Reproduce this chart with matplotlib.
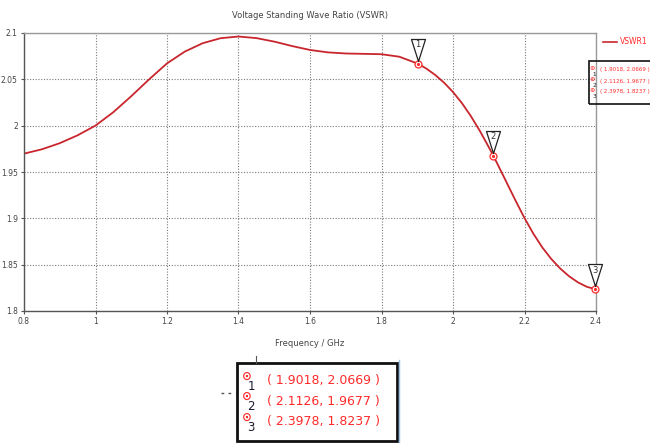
import numpy as np
import matplotlib
matplotlib.use("Agg")
import matplotlib.pyplot as plt
from matplotlib.path import Path

# VSWR curve, values
freq = [0.80, 0.85, 0.90, 0.95, 1.00, 1.05, 1.10, 1.15, 1.20, 1.25, 1.30, 1.35,
        1.40, 1.45, 1.50, 1.55, 1.60, 1.65, 1.70, 1.75, 1.80, 1.85, 1.9018, 1.925,
        1.95, 1.975, 2.00, 2.025, 2.05, 2.075, 2.10, 2.1126, 2.125, 2.15, 2.175,
        2.20, 2.225, 2.25, 2.275, 2.30, 2.325, 2.35, 2.375, 2.3978, 2.40]
vswr = [1.9698, 1.9745, 1.9811, 1.9896, 2.0001, 2.0146, 2.0318, 2.0500, 2.0672,
        2.0800, 2.0890, 2.0944, 2.0962, 2.0945, 2.0907, 2.0859, 2.0817, 2.0791,
        2.0779, 2.0775, 2.0771, 2.0744, 2.0669, 2.0617, 2.0548, 2.0464, 2.0363,
        2.0243, 2.0103, 1.9944, 1.9769, 1.9677, 1.9582, 1.9387, 1.9191, 1.9003,
        1.8833, 1.8685, 1.8561, 1.8458, 1.8374, 1.8308, 1.8260, 1.8237, 1.8236]

marker_ids = ["1", "2", "3"]
marker_f = [1.9018, 2.1126, 2.3978]
marker_v = [2.0669, 1.9677, 1.8237]

xticks = [0.8, 1.0, 1.2, 1.4, 1.6, 1.8, 2.0, 2.2, 2.4]
xtick_labels = ["0.8", "1", "1.2", "1.4", "1.6", "1.8", "2", "2.2", "2.4"]
yticks = [1.8, 1.85, 1.9, 1.95, 2.0, 2.05, 2.1]
ytick_labels = ["1.8", "1.85", "1.9", "1.95", "2", "2.05", "2.1"]

line_red = "#c8262c"
text_red = "#ff2a2a"
small_font = ["Liberation Sans Narrow", "DejaVu Sans"]

fig = plt.figure(figsize=(6.5, 4.43), dpi=100)
W, H = 650, 443


def px(x, y, w, h):
    return [x / W, 1 - (y + h) / H, w / W, h / H]


ax = fig.add_axes(px(24, 33, 572, 278))
ax.plot(freq, vswr, color=line_red, lw=1.3, solid_capstyle="round", solid_joinstyle="round")
ax.set_xlim(0.8, 2.4)
ax.set_ylim(1.8, 2.1)
ax.set_xticks(xticks)
ax.set_xticklabels(xtick_labels, family=small_font, fontsize=5.5, color="#444444")
ax.set_yticks(yticks)
ax.set_yticklabels(ytick_labels, family=small_font, fontsize=5.5, color="#444444")
ax.tick_params(length=2.5, width=0.8, color="#555555", pad=2)
ax.grid(True, ls=(0, (1, 1.5)), color="#7a7a7a", lw=0.8)
for s in ["left", "bottom"]:
    ax.spines[s].set_color("#555555")
for s in ["top", "right"]:
    ax.spines[s].set_color("#999999")
for s in ax.spines.values():
    s.set_linewidth(1.0)

ax.set_title("Voltage Standing Wave Ratio (VSWR)", family=small_font, fontsize=6,
             color="#444444", pad=11)
ax.set_xlabel("Frequency / GHz", family=small_font, fontsize=6, color="#444444", labelpad=9)

# markers on the curve
ax.plot(marker_f, marker_v, ls="none", marker="o", ms=5, mfc="white", mec=text_red,
        mew=0.9, clip_on=False, zorder=5)
ax.plot(marker_f, marker_v, ls="none", marker="o", ms=1.3, color=text_red,
        clip_on=False, zorder=6)

# inverted triangle flags, tip just above the marker
tri = Path([(-0.28, 1.0), (0.28, 1.0), (0.0, 0.12), (-0.28, 1.0)],
           [Path.MOVETO, Path.LINETO, Path.LINETO, Path.CLOSEPOLY])
ax.plot(marker_f, marker_v, ls="none", marker=tri, ms=36, mfc="white", mec="#222222",
        mew=0.9, clip_on=False, zorder=7)
for mid, f, v in zip(marker_ids, marker_f, marker_v):
    ax.annotate(mid, (f, v), xytext=(0, 13.5), textcoords="offset points", ha="center",
                va="center", family=small_font, fontsize=6, color="#333333",
                annotation_clip=False, zorder=8)

# legend line at top right
fig.add_artist(plt.Line2D([603 / W, 617 / W], [1 - 42 / H, 1 - 42 / H], color=line_red, lw=1.2))
fig.text(620 / W, 1 - 42 / H, "VSWR1", family=small_font, fontsize=5.5, color=text_red,
         va="center", ha="left")

# small marker readout box at the right
fig.add_artist(plt.Rectangle((589 / W, 1 - 104 / H), 70 / W, 43 / H, fill=False,
                             ec="#111111", lw=1.2, clip_on=False))
for i, (mid, f, v) in enumerate(zip(marker_ids, marker_f, marker_v)):
    yy = 70 + i * 11
    fig.text(592.5 / W, 1 - (yy - 1.5) / H, "\u2299", fontsize=4.6, color=text_red,
             ha="center", va="center", fontweight="bold")
    fig.text(594 / W, 1 - (yy + 4.5) / H, mid, family=small_font, fontsize=4.2,
             color="#222222", ha="center", va="center")
    fig.text(600 / W, 1 - yy / H, "( %.4f, %.4f )" % (f, v), family=small_font,
             fontsize=4, color=text_red, ha="left", va="center")

# enlarged readout box below the chart
fig.add_artist(plt.Rectangle((237 / W, 1 - 441 / H), 160 / W, 78 / H, fill=False,
                             ec="#111111", lw=2, clip_on=False))
fig.add_artist(plt.Line2D([256 / W, 256 / W], [1 - 356 / H, 1 - 363 / H], color="#555555", lw=0.8))
fig.add_artist(plt.Line2D([221 / W, 235 / W], [1 - 393 / H, 1 - 393 / H], color="#555555",
                          lw=1, ls=(0, (2, 3))))
fig.add_artist(plt.Line2D([399 / W, 399 / W], [1 - 360 / H, 0], color="#9ec3e6", lw=1))
for i, (mid, f, v) in enumerate(zip(marker_ids, marker_f, marker_v)):
    yy = 380.5 + i * 20.5
    fig.text(247 / W, 1 - (yy - 4.5) / H, "\u2299", fontsize=8.5, color=text_red,
             ha="center", va="center", fontweight="bold")
    fig.text(251 / W, 1 - (yy + 6) / H, mid, fontsize=8.5, color="#1a1a2e",
             ha="center", va="center")
    fig.text(267 / W, 1 - yy / H, "( %.4f, %.4f )" % (f, v), fontsize=9,
             color=text_red, ha="left", va="center")

fig.savefig("out.png", dpi=100)
